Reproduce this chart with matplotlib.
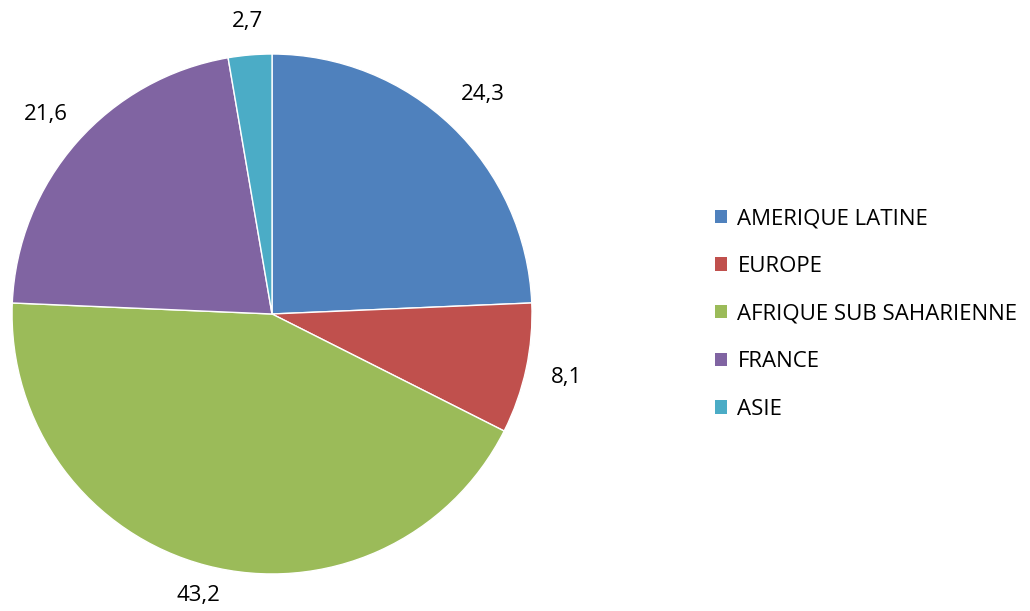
import matplotlib.pyplot as plt
import numpy as np
from matplotlib.patches import Patch

plt.rcParams['font.family'] = ['Open Sans', 'DejaVu Sans']

categories = ['AMERIQUE LATINE', 'EUROPE', 'AFRIQUE SUB SAHARIENNE', 'FRANCE', 'ASIE']
values = [24.3, 8.1, 43.2, 21.6, 2.7]
value_labels = ['24,3', '8,1', '43,2', '21,6', '2,7']
colors = ['#4F81BD', '#C0504D', '#9BBB59', '#8064A2', '#4BACC6']
label_dist = [1.17, 1.16, 1.12, 1.16, 1.13]

fig = plt.figure(figsize=(10.3, 6.11), dpi=100)
ax = fig.add_axes([0.01165, 0.0606, 0.5049, 0.851])

wedges, _ = ax.pie(values, colors=colors, startangle=90, counterclock=False,
                   wedgeprops=dict(edgecolor='white', linewidth=1))

# value labels outside each wedge
for w, lab, d in zip(wedges, value_labels, label_dist):
    ang = np.deg2rad((w.theta1 + w.theta2) / 2)
    ax.text(d * np.cos(ang), d * np.sin(ang), lab, ha='center', va='center',
            fontsize=16, color='black')

ax.set_aspect('equal')
ax.set_xlim(-1, 1)
ax.set_ylim(-1, 1)
ax.axis('off')

handles = [Patch(facecolor=c, edgecolor='none') for c in colors]
fig.legend(handles, categories, loc='center left', bbox_to_anchor=(0.675, 0.486),
           frameon=False, fontsize=16, handlelength=0.55, handleheight=0.55,
           handletextpad=0.45, labelspacing=1.2)

fig.savefig('out.png', dpi=100)
